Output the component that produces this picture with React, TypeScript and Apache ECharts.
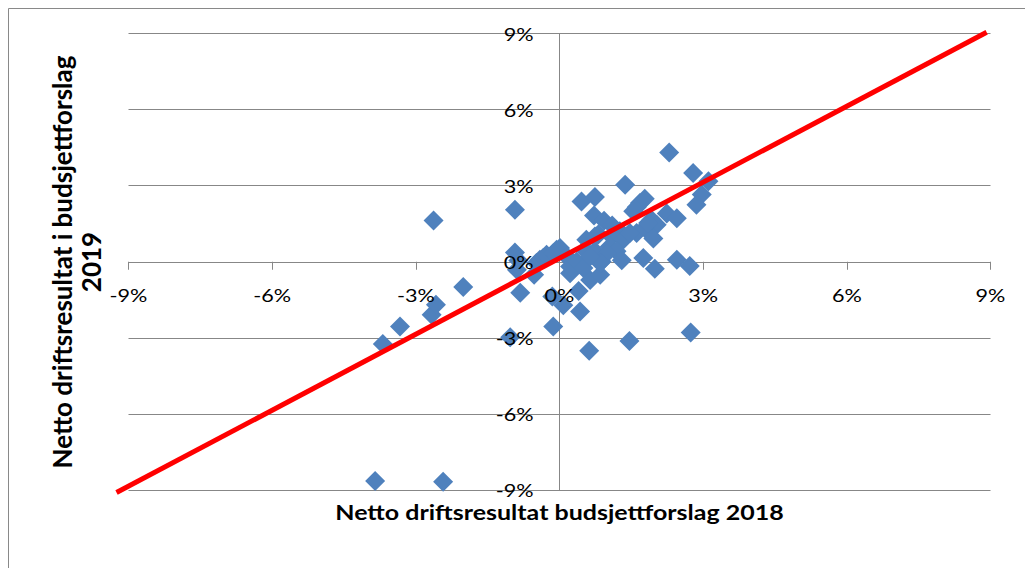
import React, { useEffect, useRef } from "react";
import * as echarts from "echarts";

// Netto driftsresultat (% of income)
const budsjett2018: number[] = [
  -3.85, -2.43, -3.69, -3.33, -2.67, -2.58, -2.01, -2.63, -0.93, -1.03,
  -0.13, 0.62, 1.46, 2.74, 2.29, 2.79, 3.11, 2.97, 2.86, 1.37,
  -0.82, 0.43, 0.08, -0.15, 0.4, 0.64, 0.85, 0.22, -0.53, -0.89,
  -0.93, -0.86, -0.48, -0.41, -0.34, -0.27, -0.06, 0.01, -0.13, 0.15,
  0.22, 0.36, 0.5, 0.56, 0.53, 0.81, 0.74, 0.88, 0.46, 0.74,
  0.72, 0.93, 1.1, 1.26, 1.09, 1.33, 1.05, 1.19, 0.99, 1.3,
  1.75, 1.99, 2.45, 2.72, 0.85, 1.61, 1.68, 1.78, 2.24, 2.45,
  1.92, 2.03, 1.78, 1.61, 1.47, 1.96, 1.85, 0.64, 1.54, 0.74,
];
const budsjett2019: number[] = [
  -8.65, -8.67, -3.24, -2.55, -2.09, -1.7, -1.0, 1.63, 2.05, -2.98,
  -2.55, -3.51, -3.12, -2.79, 4.31, 3.5, 3.17, 2.65, 2.25, 3.04,
  -1.22, -1.96, -1.72, -1.37, -1.15, -0.72, -0.51, -0.45, -0.51, -0.32,
  0.36, 0.05, -0.05, 0.08, 0.15, 0.28, 0.47, 0.54, 0.34, 0.21,
  -0.19, 0.01, -0.25, 0.87, 0.47, 1.07, 0.41, 0.01, 2.38, 2.55,
  1.82, 1.62, 1.43, 1.2, 1.0, 0.87, 0.6, 0.41, 0.34, 0.06,
  0.15, -0.28, 0.08, -0.17, -0.05, 2.15, 2.32, 2.48, 1.9, 1.72,
  1.66, 1.46, 1.33, 1.13, 1.13, 0.92, 1.53, 0.21, 1.99, 1.0,
];

// Red reference line: [x start, y start, x end, y end]
const refLine: number[] = [-9.25, -9.1, 8.92, 9.05];

// Axis ticks (percent)
const tickValues: number[] = [-9, -6, -3, 0, 3, 6, 9];

const xTitle = "Netto driftsresultat budsjettforslag 2018";
const yTitle = "Netto driftsresultat i budsjettforslag\n2019";

const FONT = "Lato, 'Noto Sans', sans-serif";
const GRID_COLOR = "#878787";
const STRETCH = 1.2;

export default function App() {
  const ref = useRef<HTMLDivElement>(null);

  useEffect(() => {
    const chart = echarts.init(ref.current!, null, { renderer: "svg" });
    const points = budsjett2018.map((x, i) => [x, budsjett2019[i]]);
    const axisMin = tickValues[0];
    const axisMax = tickValues[tickValues.length - 1];
    const axisStep = tickValues[1] - tickValues[0];

    chart.setOption({
      animation: false,
      grid: {
        left: 120.5,
        right: 42.5,
        top: 25.5,
        bottom: 78,
        containLabel: false,
        outerBoundsMode: "none",
      },
      xAxis: {
        type: "value",
        min: axisMin,
        max: axisMax,
        interval: axisStep,
        axisLine: { show: true, onZero: true, lineStyle: { color: GRID_COLOR, width: 1 } },
        axisTick: { show: true, length: 8, lineStyle: { color: GRID_COLOR } },
        axisLabel: { show: false },
        splitLine: { show: false },
      },
      yAxis: {
        type: "value",
        min: axisMin,
        max: axisMax,
        interval: axisStep,
        axisLine: { show: true, onZero: true, lineStyle: { color: GRID_COLOR, width: 1 } },
        axisTick: { show: true, length: 9, lineStyle: { color: GRID_COLOR } },
        axisLabel: { show: false },
        splitLine: { show: true, lineStyle: { color: GRID_COLOR, width: 1 } },
      },
      series: [
        {
          type: "scatter",
          data: points,
          symbol: "diamond",
          symbolSize: 20,
          itemStyle: { color: "#4F81BD", opacity: 1 },
          z: 2,
        },
        {
          type: "custom",
          coordinateSystem: "cartesian2d",
          data: [refLine],
          encode: { x: [0, 2], y: [1, 3] },
          clip: false,
          silent: true,
          z: 6,
          renderItem: (_params: any, api: any) => {
            const p0 = api.coord([api.value(0), api.value(1)]);
            const p1 = api.coord([api.value(2), api.value(3)]);
            return {
              type: "line",
              shape: { x1: p0[0], y1: p0[1], x2: p1[0], y2: p1[1] },
              style: { stroke: "#FF0000", lineWidth: 5 },
            };
          },
        },
        {
          type: "custom",
          coordinateSystem: "cartesian2d",
          data: tickValues.map((v) => [v, 0]),
          clip: false,
          silent: true,
          z: 7,
          renderItem: (_params: any, api: any) => {
            const v = api.value(0);
            const p = api.coord([v, 0]);
            return {
              type: "text",
              x: p[0],
              y: p[1] + 24,
              scaleX: STRETCH,
              style: {
                text: `${v}%`,
                font: `18px ${FONT}`,
                fill: "#000",
                textAlign: "center",
                textVerticalAlign: "top",
              },
            };
          },
        },
        {
          type: "custom",
          coordinateSystem: "cartesian2d",
          data: tickValues.map((v) => [0, v]),
          clip: false,
          silent: true,
          z: 7,
          renderItem: (_params: any, api: any) => {
            const v = api.value(1);
            const p = api.coord([0, v]);
            return {
              type: "text",
              x: p[0] - 26,
              y: p[1],
              scaleX: STRETCH,
              style: {
                text: `${v}%`,
                font: `18px ${FONT}`,
                fill: "#000",
                textAlign: "right",
                textVerticalAlign: "middle",
              },
            };
          },
        },
      ],
      graphic: [
        {
          type: "rect",
          shape: { x: 0.5, y: 0.5, width: 1200, height: 800 },
          style: { fill: "none", stroke: "#898989", lineWidth: 1 },
          silent: true,
          z: -1,
        },
        {
          type: "text",
          x: 551.5,
          y: 504,
          scaleX: 1.25,
          style: {
            text: xTitle,
            font: `bold 20px ${FONT}`,
            fill: "#000",
            textAlign: "center",
            textVerticalAlign: "middle",
          },
        },
        {
          type: "text",
          x: 68,
          y: 254,
          rotation: Math.PI / 2,
          style: {
            text: yTitle,
            font: `bold 26px ${FONT}`,
            fill: "#000",
            textAlign: "center",
            textVerticalAlign: "middle",
            lineHeight: 29,
          },
        },
      ],
    });
    return () => chart.dispose();
  }, []);

  return <div ref={ref} style={{ width: 1025, height: 560 }} />;
}
